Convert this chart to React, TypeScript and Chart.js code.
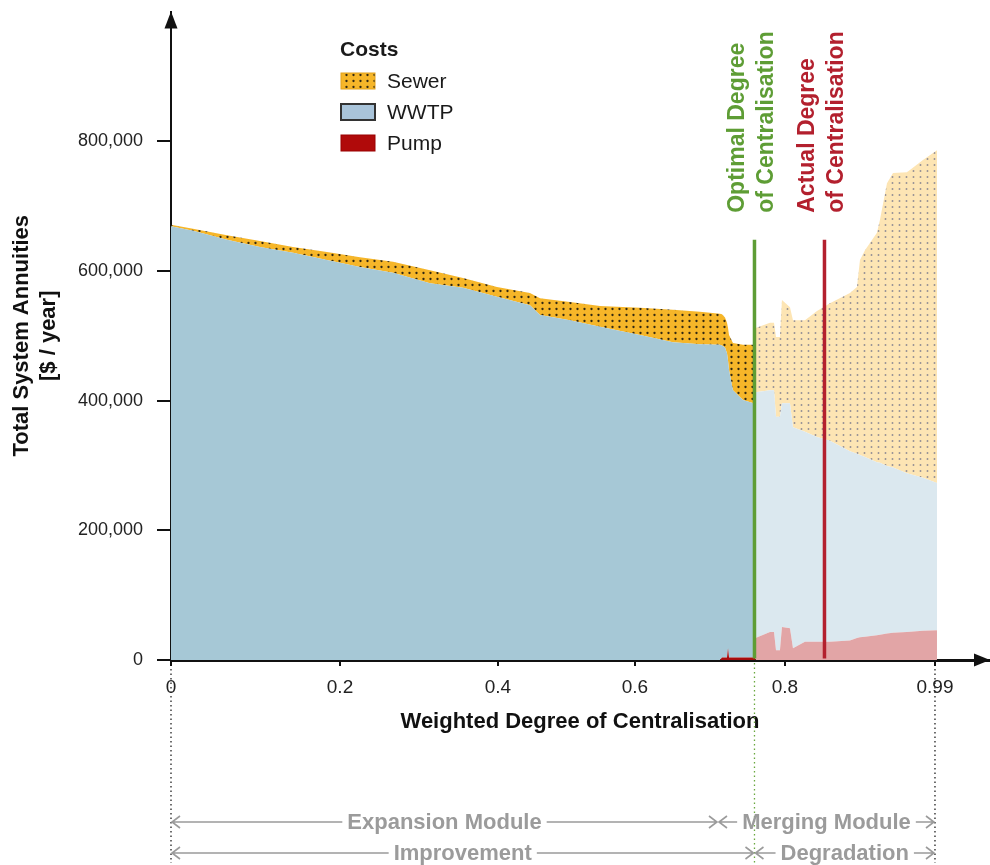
import React, { useEffect, useRef } from 'react';
import { Chart, registerables } from 'chart.js';

Chart.register(...registerables);

// Position along the (non-uniformly labelled) centralisation axis
const xPositions = [
  0, 0.0285, 0.0726, 0.1153, 0.1581, 0.2021, 0.2449, 0.2877, 0.3356, 0.3784,
  0.4224, 0.4652, 0.4782, 0.517, 0.5559, 0.6077, 0.6505, 0.6855, 0.7114, 0.714,
  0.7179, 0.7205, 0.7218, 0.7231, 0.7282, 0.7412, 0.7549, 0.7575, 0.7762, 0.7814,
  0.784, 0.7891, 0.7917, 0.8021, 0.806, 0.8215, 0.8371, 0.8539, 0.8798, 0.8889,
  0.8928, 0.8993, 0.9148, 0.9187, 0.9278, 0.9356, 0.9537, 0.9744, 0.9926,
];

// Cost components in $ / year (thousands)
const pumpCost = [
  0, 0, 0, 0, 0, 0, 0, 0, 0, 0,
  0, 0, 0, 0, 0, 0, 0, 0, 0, 4,
  4, 4, 18, 4, 4, 4, 4, 34, 43, 43,
  15, 15, 51, 49, 18, 28, 28, 28, 30, 34,
  35, 36, 38, 39, 41, 42, 43, 45, 46,
];
const wwtpCost = [
  669, 662, 648, 637, 628, 617, 606, 597, 581, 574,
  560, 547, 532, 524, 514, 501, 490, 487, 486, 481,
  478, 469, 444, 443, 412, 397, 392, 379, 373, 373,
  360, 360, 345, 347, 341, 324, 316, 310, 292, 284,
  281, 277, 267, 265, 258, 255, 245, 236, 227,
];
const sewerCost = [
  2, 3, 7, 9, 9, 12, 15, 17, 20, 15,
  15, 19, 26, 28, 32, 42, 50, 50, 48, 48,
  46, 47, 50, 54, 73, 85, 90, 99, 104, 104,
  123, 123, 159, 148, 165, 172, 194, 212, 244, 257,
  301, 319, 354, 375, 436, 454, 464, 490, 513,
];

const yTickValues = [0, 200000, 400000, 600000, 800000];
const xTickPositions = [0, 0.219, 0.4237, 0.6012, 0.7956, 0.99];
const xTickLabels = ['0', '0.2', '0.4', '0.6', '0.8', '0.99'];

const optimalDegree = 0.7561;
const actualDegree = 0.8468;
const moduleBoundary = 0.7088;
const axisEnd = 0.99;
const markerTopValue = 648000;

const legendTitle = 'Costs';
const seriesNames = ['Pump', 'WWTP', 'Sewer'];

const bottomRows = [
  [
    { text: 'Expansion Module', from: 0, to: moduleBoundary },
    { text: 'Merging Module', from: moduleBoundary, to: axisEnd },
  ],
  [
    { text: 'Improvement', from: 0, to: optimalDegree },
    { text: 'Degradation', from: optimalDegree, to: axisEnd },
  ],
];

const markers = [
  { value: optimalDegree, color: '#5e9d35', lines: ['Optimal Degree', 'of Centralisation'] },
  { value: actualDegree, color: '#b3202e', lines: ['Actual Degree', 'of Centralisation'] },
];

const FONT = "'Liberation Sans', Arial, Helvetica, sans-serif";
const NARROW = "'Liberation Sans Narrow', 'Liberation Sans', Arial, sans-serif";

function dotPattern(
  ctx: CanvasRenderingContext2D,
  bg: string,
  dot: string,
  w: number,
  h: number,
  r: number
) {
  const c = document.createElement('canvas');
  c.width = w;
  c.height = h;
  const g = c.getContext('2d')!;
  g.fillStyle = bg;
  g.fillRect(0, 0, w, h);
  g.fillStyle = dot;
  g.beginPath();
  g.arc(w / 2, h / 2, r, 0, Math.PI * 2);
  g.fill();
  return ctx.createPattern(c, 'repeat') as CanvasPattern;
}

export default function App() {
  const ref = useRef<HTMLCanvasElement>(null);

  useEffect(() => {
    const canvas = ref.current!;
    const c2d = canvas.getContext('2d')!;
    const sewerDark = dotPattern(c2d, '#f6b629', 'rgba(30,25,15,0.9)', 7, 6, 1.15);
    const sewerLight = dotPattern(c2d, '#fde5b4', 'rgba(120,120,140,0.8)', 7, 6, 0.95);
    const wwtpDark = '#a6c8d6';
    const wwtpLight = '#dbe8ef';
    const pumpDark = '#a80c0c';
    const pumpLight = '#e2a5a6';

    const colors = [
      [pumpDark, pumpLight],
      [wwtpDark, wwtpLight],
      [sewerDark, sewerLight],
    ];
    const series = [pumpCost, wwtpCost, sewerCost];

    const datasets = series.map((vals, k) => ({
      label: seriesNames[k],
      data: vals.map((v, i) => ({ x: xPositions[i], y: v * 1000 })),
      fill: k === 0 ? 'origin' : '-1',
      backgroundColor: colors[k][0],
      borderWidth: 0,
      pointRadius: 0,
      tension: 0,
      segment: {
        backgroundColor: (sc: any) =>
          xPositions[sc.p0DataIndex] >= optimalDegree ? colors[k][1] : colors[k][0],
      },
    }));

    const decor = {
      id: 'decor',
      afterDraw(chart: any) {
        const { ctx, chartArea, scales } = chart;
        const xs = scales.x;
        const ys = scales.y;
        const { left, right, top, bottom } = chartArea;
        ctx.save();

        // markers
        const lineTop = ys.getPixelForValue(markerTopValue);
        markers.forEach((m) => {
          const px = xs.getPixelForValue(m.value);
          ctx.strokeStyle = m.color;
          ctx.lineWidth = 3.5;
          ctx.setLineDash([]);
          ctx.beginPath();
          ctx.moveTo(px, lineTop);
          ctx.lineTo(px, bottom - 1.5);
          ctx.stroke();
          ctx.fillStyle = m.color;
          ctx.font = `bold 23px ${FONT}`;
          ctx.textAlign = 'left';
          ctx.textBaseline = 'middle';
          m.lines.forEach((t, i) => {
            ctx.save();
            ctx.translate(px - 17 + i * 29.5, lineTop - 27);
            ctx.rotate(-Math.PI / 2);
            ctx.fillText(t, 0, 0);
            ctx.restore();
          });
        });

        // axis arrows
        ctx.fillStyle = '#111';
        ctx.beginPath();
        ctx.moveTo(left, top);
        ctx.lineTo(left - 6.5, top + 17);
        ctx.lineTo(left + 6.5, top + 17);
        ctx.closePath();
        ctx.fill();
        ctx.beginPath();
        ctx.moveTo(right + 1, bottom);
        ctx.lineTo(right - 15, bottom - 6.5);
        ctx.lineTo(right - 15, bottom + 6.5);
        ctx.closePath();
        ctx.fill();

        // dotted guides below the axis
        ctx.lineWidth = 1.3;
        ctx.setLineDash([1.5, 3]);
        [0, axisEnd].forEach((v) => {
          const px = xs.getPixelForValue(v);
          ctx.strokeStyle = '#222';
          ctx.beginPath();
          ctx.moveTo(px, bottom + 9);
          ctx.lineTo(px, bottom + 203);
          ctx.stroke();
        });
        {
          const px = xs.getPixelForValue(optimalDegree);
          ctx.strokeStyle = '#6aa83f';
          ctx.beginPath();
          ctx.moveTo(px, bottom + 3);
          ctx.lineTo(px, bottom + 205);
          ctx.stroke();
        }
        ctx.setLineDash([]);

        // module rows
        const rowY = [bottom + 162, bottom + 193];
        ctx.font = `bold 22px ${FONT}`;
        ctx.textAlign = 'center';
        ctx.textBaseline = 'middle';
        bottomRows.forEach((row, r) => {
          const y = rowY[r];
          row.forEach((seg) => {
            const a = xs.getPixelForValue(seg.from) + 1;
            const b = xs.getPixelForValue(seg.to) - 1;
            const cx = (a + b) / 2;
            const w = ctx.measureText(seg.text).width;
            ctx.strokeStyle = '#9b9b9b';
            ctx.fillStyle = '#9b9b9b';
            ctx.lineWidth = 1.6;
            ctx.beginPath();
            ctx.moveTo(a, y);
            ctx.lineTo(cx - w / 2 - 5, y);
            ctx.moveTo(cx + w / 2 + 5, y);
            ctx.lineTo(b, y);
            ctx.moveTo(a + 8, y - 6);
            ctx.lineTo(a, y);
            ctx.lineTo(a + 8, y + 6);
            ctx.moveTo(b - 8, y - 6);
            ctx.lineTo(b, y);
            ctx.lineTo(b - 8, y + 6);
            ctx.stroke();
            ctx.fillText(seg.text, cx, y + 1);
          });
        });

        // legend
        const lx = left + 169;
        ctx.textAlign = 'left';
        ctx.textBaseline = 'middle';
        ctx.fillStyle = '#1a1a1a';
        ctx.font = `bold 21px ${FONT}`;
        ctx.fillText(legendTitle, lx, 50);
        const order = [2, 1, 0];
        const swFill = [sewerDark, '#a9c4da', '#b00a0a'];
        const swStroke = ['#e2a21c', '#333', '#9a0000'];
        const swLine = [1, 2, 1];
        ctx.font = `21px ${FONT}`;
        order.forEach((di, i) => {
          const y = 73 + i * 31;
          ctx.fillStyle = swFill[i];
          ctx.fillRect(lx + 1, y, 34, 16);
          ctx.strokeStyle = swStroke[i];
          ctx.lineWidth = swLine[i];
          ctx.strokeRect(lx + 1, y, 34, 16);
          ctx.fillStyle = '#1a1a1a';
          ctx.fillText(chart.data.datasets[di].label, lx + 47, y + 9);
        });

        ctx.restore();
      },
    };

    const chart = new Chart(canvas, {
      type: 'line',
      data: { datasets: datasets as any },
      options: {
        animation: false,
        responsive: false,
        layout: { padding: { top: 11.5, right: 1, left: 0, bottom: 0 } },
        plugins: {
          legend: { display: false },
          tooltip: { enabled: false },
        },
        scales: {
          x: {
            type: 'linear',
            min: 0,
            max: 1.06,
            z: 1,
            afterBuildTicks: (s: any) => {
              s.ticks = xTickPositions.map((v) => ({ value: v }));
            },
            afterFit: (s: any) => {
              s.height = 205;
              s.paddingLeft = 0;
              s.paddingRight = 0;
              s.paddingTop = 0;
              s.paddingBottom = 0;
            },
            ticks: {
              autoSkip: false,
              maxRotation: 0,
              padding: 10,
              color: '#222',
              font: { family: NARROW, size: 19 },
              callback: (_v: any, i: number) => xTickLabels[i],
            },
            grid: { drawOnChartArea: false, drawTicks: true, tickLength: 6, color: '#111', lineWidth: 2 },
            border: { display: true, color: '#111', width: 3 },
            title: {
              display: true,
              text: 'Weighted Degree of Centralisation',
              color: '#111',
              font: { family: FONT, size: 22, weight: 'bold' },
              padding: { top: 0, bottom: 130 },
            },
          },
          y: {
            type: 'linear',
            stacked: true,
            min: 0,
            max: 1000000,
            z: 1,
            afterBuildTicks: (s: any) => {
              s.ticks = yTickValues.map((v) => ({ value: v }));
            },
            afterFit: (s: any) => {
              s.width = 171;
              s.paddingLeft = 0;
              s.paddingRight = 0;
              s.paddingTop = 0;
              s.paddingBottom = 0;
            },
            ticks: {
              padding: 14,
              color: '#222',
              font: { family: FONT, size: 18 },
              callback: (v: any) => Number(v).toLocaleString('en-US'),
            },
            grid: { drawOnChartArea: false, drawTicks: true, tickLength: 14, color: '#111', lineWidth: 2 },
            border: { display: true, color: '#111', width: 2 },
            title: {
              display: true,
              text: ['Total System Annuities', '[$ / year]'],
              color: '#111',
              font: { family: FONT, size: 22, weight: 'bold', lineHeight: 1.2 },
              padding: { top: 9, bottom: 0 },
            },
          },
        },
      } as any,
      plugins: [decor],
    });

    return () => chart.destroy();
  }, []);

  return (
    <div style={{ position: 'absolute', left: 0, top: 0, width: 990, height: 865, background: '#fff' }}>
      <canvas ref={ref} width={990} height={865} style={{ display: 'block', width: 990, height: 865 }} />
    </div>
  );
}
